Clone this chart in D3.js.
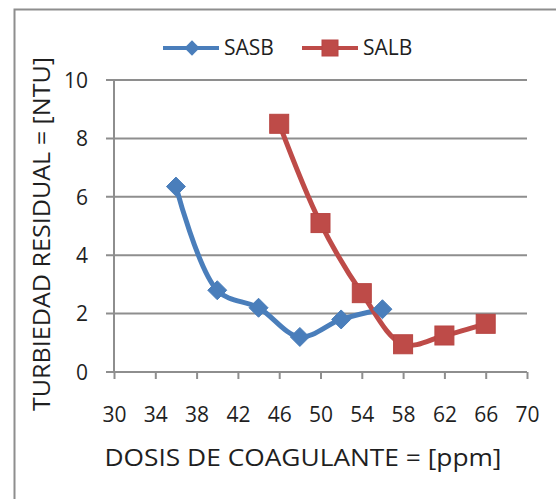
<!DOCTYPE html>
<html>
<head>
<meta charset="UTF-8">
<title></title>
<script src="https://cdn.jsdelivr.net/npm/d3@7"></script>
<style>
  body { margin: 0; background: #fff; }
  text { font-family: "Open Sans", sans-serif; fill: #1f1f1f; }
</style>
</head>
<body>
<div id="chart"></div>
<script>
// data
var sasbX = [36, 40, 44, 48, 52, 56];
var sasbY = [6.35, 2.8, 2.2, 1.2, 1.8, 2.15];
var salbX = [46, 50, 54, 58, 62, 66];
var salbY = [8.5, 5.1, 2.7, 0.95, 1.25, 1.65];
var xTicks = [30, 34, 38, 42, 46, 50, 54, 58, 62, 66, 70];
var yTicks = [0, 2, 4, 6, 8, 10];
var seriesNames = ["SASB", "SALB"];

var width = 556, height = 499;
// plot area in pixels
var pLeft = 114, pRight = 527, pTop = 80, pBottom = 372;
var blue = "#4a7ebb", red = "#be4b48", axisColor = "#8e8e8e";

var svg = d3.select("#chart").append("svg")
  .attr("width", width).attr("height", height);

// outer frame (cut off on the right and bottom)
svg.append("rect")
  .attr("x", 14.5).attr("y", 9.5)
  .attr("width", 700).attr("height", 700)
  .attr("fill", "none").attr("stroke", axisColor).attr("stroke-width", 2);

var x = d3.scaleLinear().domain([30, 70]).range([pLeft, pRight]);
var y = d3.scaleLinear().domain([0, 10]).range([pBottom, pTop]);

// horizontal gridlines (they also act as the left ticks)
svg.append("g").selectAll("line").data(yTicks).enter().append("line")
  .attr("x1", pLeft - 8).attr("x2", pRight)
  .attr("y1", function(d) { return y(d); })
  .attr("y2", function(d) { return y(d); })
  .attr("stroke", axisColor).attr("stroke-width", 2);

// y axis
var yAxis = d3.axisLeft(y).tickValues(yTicks).tickSize(0).tickPadding(0);
var gy = svg.append("g").attr("transform", "translate(" + (pLeft - 26) + ",0)").call(yAxis);
gy.select(".domain").remove();
gy.selectAll("text").attr("font-size", 21).attr("font-family", "Open Sans").attr("fill", "#1f1f1f")
  .attr("dy", "0.35em");
svg.append("line")
  .attr("x1", pLeft).attr("x2", pLeft).attr("y1", pTop).attr("y2", pBottom)
  .attr("stroke", axisColor).attr("stroke-width", 2);

// x axis
var xAxis = d3.axisBottom(x).tickValues(xTicks).tickSize(7).tickPadding(28);
var gx = svg.append("g").attr("transform", "translate(0," + pBottom + ")").call(xAxis);
gx.select(".domain").remove();
gx.selectAll("line").attr("stroke", axisColor).attr("stroke-width", 2);
gx.selectAll("text").attr("font-size", 21).attr("font-family", "Open Sans").attr("fill", "#1f1f1f");

// axis titles
svg.append("text")
  .attr("x", 303).attr("y", 466)
  .attr("text-anchor", "middle")
  .attr("font-size", 23)
  .attr("textLength", 397).attr("lengthAdjust", "spacingAndGlyphs")
  .text("DOSIS DE COAGULANTE = [ppm]");
svg.append("text")
  .attr("transform", "translate(50,234) rotate(-90)")
  .attr("text-anchor", "middle")
  .attr("font-size", 23)
  .attr("textLength", 354).attr("lengthAdjust", "spacingAndGlyphs")
  .text("TURBIEDAD RESIDUAL = [NTU]");

var line = d3.line().curve(d3.curveCatmullRom)
  .x(function(d) { return x(d[0]); })
  .y(function(d) { return y(d[1]); });

var sasb = d3.zip(sasbX, sasbY);
var salb = d3.zip(salbX, salbY);

svg.append("path").datum(sasb).attr("d", line)
  .attr("fill", "none").attr("stroke", blue).attr("stroke-width", 5)
  .attr("stroke-linejoin", "round");
svg.append("path").datum(salb).attr("d", line)
  .attr("fill", "none").attr("stroke", red).attr("stroke-width", 5)
  .attr("stroke-linejoin", "round");

var diamond = d3.symbol().type(d3.symbolDiamond2).size(230);
svg.append("g").selectAll("path").data(sasb).enter().append("path")
  .attr("d", diamond)
  .attr("transform", function(d) { return "translate(" + x(d[0]) + "," + y(d[1]) + ")"; })
  .attr("fill", blue).attr("stroke", blue).attr("stroke-width", 1);

svg.append("g").selectAll("rect").data(salb).enter().append("rect")
  .attr("x", function(d) { return x(d[0]) - 9.5; })
  .attr("y", function(d) { return y(d[1]) - 9.5; })
  .attr("width", 19).attr("height", 19)
  .attr("fill", red).attr("stroke", "#b84542").attr("stroke-width", 1);

// legend
var legend = [
  { name: seriesNames[0], color: blue, x1: 163, x2: 219, mx: 192 },
  { name: seriesNames[1], color: red, x1: 302, x2: 358, mx: 330 }
];
var ly = 48;
legend.forEach(function(l, i) {
  svg.append("line").attr("x1", l.x1).attr("x2", l.x2).attr("y1", ly).attr("y2", ly)
    .attr("stroke", l.color).attr("stroke-width", 4);
  if (i == 0) {
    svg.append("path").attr("d", d3.symbol().type(d3.symbolDiamond2).size(150))
      .attr("transform", "translate(" + l.mx + "," + ly + ")").attr("fill", l.color);
  } else {
    svg.append("rect").attr("x", l.mx - 8).attr("y", ly - 8).attr("width", 16).attr("height", 16)
      .attr("fill", l.color).attr("stroke", "#b84542");
  }
  svg.append("text").attr("x", l.x2 + 5).attr("y", ly).attr("dy", "0.35em")
    .attr("font-size", 21).text(l.name);
});
</script>
</body>
</html>
